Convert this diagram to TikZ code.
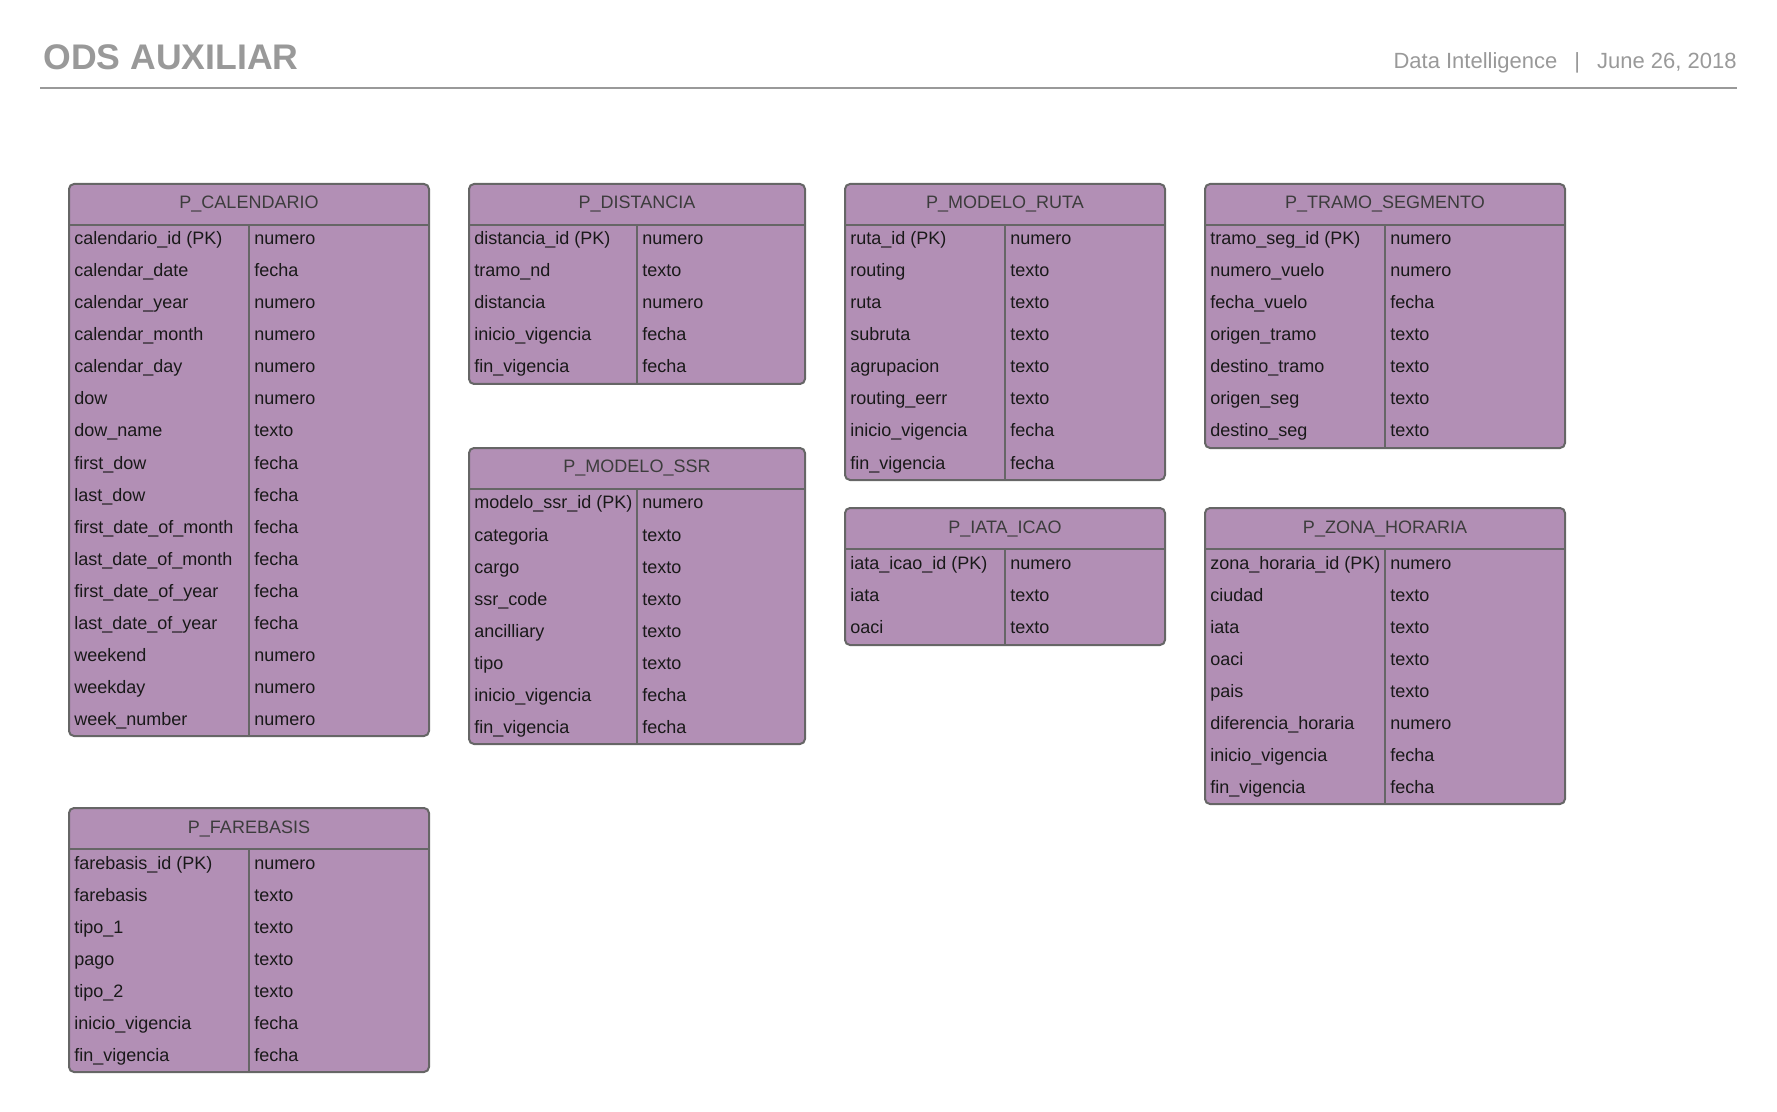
\documentclass[tikz,border=0pt]{standalone}
\usepackage{fontspec}
\setmainfont{Liberation Sans}
\usepackage{tikz}
\definecolor{tblfill}{RGB}{178,143,181}
\definecolor{tblline}{RGB}{102,102,102}
\definecolor{headgray}{RGB}{153,153,153}
\definecolor{headtext}{RGB}{60,60,60}

\begin{document}
\begin{tikzpicture}[x=0.5pt, y=-0.5pt,
    tbl/.style={draw=tblline, fill=tblfill, line width=1pt, rounded corners=2.5pt},
    sep/.style={draw=tblline, line width=1pt},
    tblhead/.style={anchor=base, inner sep=0pt, text=headtext, font=\fontsize{9}{11}\selectfont},
    fld/.style={anchor=base west, inner sep=0pt, text=black!90, font=\fontsize{9}{11}\selectfont}]
    \useasboundingbox (0,0) rectangle (1777,1112);

    % page header
    \node[anchor=base west, inner sep=0pt, text=headgray, font=\bfseries\fontsize{17.8}{20}\selectfont] (title) at (43,70) {ODS AUXILIAR};
    \node[anchor=base east, inner sep=0pt, text=headgray, font=\fontsize{11}{13}\selectfont] (info) at (1737,69) {Data Intelligence\hspace{8.5pt}|\hspace{8.5pt}June 26, 2018};
    \coordinate (ruleL) at (40,88);
    \coordinate (ruleR) at (1737,88);
    \draw[headgray, line width=1pt] (ruleL) -- (ruleR);

    % P_CALENDARIO
    \draw[tbl] (69,184) rectangle (429,736);
    \draw[sep] (69,225) -- (429,225);
    \draw[sep] (249,225) -- (249,736);
    \node[tblhead] (cal) at (249,209) {P\_CALENDARIO};
    \node[fld] (cal1) at (74,245) {calendario\_id (PK)};   \node[fld] (cal1t) at (254,245) {numero};
    \node[fld] (cal2) at (74,277) {calendar\_date};        \node[fld] (cal2t) at (254,277) {fecha};
    \node[fld] (cal3) at (74,309) {calendar\_year};        \node[fld] (cal3t) at (254,309) {numero};
    \node[fld] (cal4) at (74,341) {calendar\_month};       \node[fld] (cal4t) at (254,341) {numero};
    \node[fld] (cal5) at (74,373) {calendar\_day};         \node[fld] (cal5t) at (254,373) {numero};
    \node[fld] (cal6) at (74,405) {dow};                   \node[fld] (cal6t) at (254,405) {numero};
    \node[fld] (cal7) at (74,437) {dow\_name};             \node[fld] (cal7t) at (254,437) {texto};
    \node[fld] (cal8) at (74,469) {first\_dow};            \node[fld] (cal8t) at (254,469) {fecha};
    \node[fld] (cal9) at (74,501) {last\_dow};             \node[fld] (cal9t) at (254,501) {fecha};
    \node[fld] (cal10) at (74,533) {first\_date\_of\_month}; \node[fld] (cal10t) at (254,533) {fecha};
    \node[fld] (cal11) at (74,565) {last\_date\_of\_month};  \node[fld] (cal11t) at (254,565) {fecha};
    \node[fld] (cal12) at (74,597) {first\_date\_of\_year};  \node[fld] (cal12t) at (254,597) {fecha};
    \node[fld] (cal13) at (74,629) {last\_date\_of\_year};   \node[fld] (cal13t) at (254,629) {fecha};
    \node[fld] (cal14) at (74,661) {weekend};              \node[fld] (cal14t) at (254,661) {numero};
    \node[fld] (cal15) at (74,693) {weekday};              \node[fld] (cal15t) at (254,693) {numero};
    \node[fld] (cal16) at (74,725) {week\_number};         \node[fld] (cal16t) at (254,725) {numero};

    % P_FAREBASIS
    \draw[tbl] (69,808) rectangle (429,1072);
    \draw[sep] (69,849) -- (429,849);
    \draw[sep] (249,849) -- (249,1072);
    \node[tblhead] (fare) at (249,833) {P\_FAREBASIS};
    \node[fld] (fare1) at (74,869) {farebasis\_id (PK)};   \node[fld] (fare1t) at (254,869) {numero};
    \node[fld] (fare2) at (74,901) {farebasis};            \node[fld] (fare2t) at (254,901) {texto};
    \node[fld] (fare3) at (74,933) {tipo\_1};              \node[fld] (fare3t) at (254,933) {texto};
    \node[fld] (fare4) at (74,965) {pago};                 \node[fld] (fare4t) at (254,965) {texto};
    \node[fld] (fare5) at (74,997) {tipo\_2};              \node[fld] (fare5t) at (254,997) {texto};
    \node[fld] (fare6) at (74,1029) {inicio\_vigencia};    \node[fld] (fare6t) at (254,1029) {fecha};
    \node[fld] (fare7) at (74,1061) {fin\_vigencia};       \node[fld] (fare7t) at (254,1061) {fecha};

    % P_DISTANCIA
    \draw[tbl] (469,184) rectangle (805,384);
    \draw[sep] (469,225) -- (805,225);
    \draw[sep] (637,225) -- (637,384);
    \node[tblhead] (dist) at (637,209) {P\_DISTANCIA};
    \node[fld] (dist1) at (474,245) {distancia\_id (PK)};  \node[fld] (dist1t) at (642,245) {numero};
    \node[fld] (dist2) at (474,277) {tramo\_nd};           \node[fld] (dist2t) at (642,277) {texto};
    \node[fld] (dist3) at (474,309) {distancia};           \node[fld] (dist3t) at (642,309) {numero};
    \node[fld] (dist4) at (474,341) {inicio\_vigencia};    \node[fld] (dist4t) at (642,341) {fecha};
    \node[fld] (dist5) at (474,373) {fin\_vigencia};       \node[fld] (dist5t) at (642,373) {fecha};

    % P_MODELO_SSR
    \draw[tbl] (469,448) rectangle (805,744);
    \draw[sep] (469,489) -- (805,489);
    \draw[sep] (637,489) -- (637,744);
    \node[tblhead] (ssr) at (637,473) {P\_MODELO\_SSR};
    \node[fld] (ssr1) at (474,509) {modelo\_ssr\_id (PK)}; \node[fld] (ssr1t) at (642,509) {numero};
    \node[fld] (ssr2) at (474,541) {categoria};            \node[fld] (ssr2t) at (642,541) {texto};
    \node[fld] (ssr3) at (474,573) {cargo};                \node[fld] (ssr3t) at (642,573) {texto};
    \node[fld] (ssr4) at (474,605) {ssr\_code};            \node[fld] (ssr4t) at (642,605) {texto};
    \node[fld] (ssr5) at (474,637) {ancilliary};           \node[fld] (ssr5t) at (642,637) {texto};
    \node[fld] (ssr6) at (474,669) {tipo};                 \node[fld] (ssr6t) at (642,669) {texto};
    \node[fld] (ssr7) at (474,701) {inicio\_vigencia};     \node[fld] (ssr7t) at (642,701) {fecha};
    \node[fld] (ssr8) at (474,733) {fin\_vigencia};        \node[fld] (ssr8t) at (642,733) {fecha};

    % P_MODELO_RUTA
    \draw[tbl] (845,184) rectangle (1165,480);
    \draw[sep] (845,225) -- (1165,225);
    \draw[sep] (1005,225) -- (1005,480);
    \node[tblhead] (ruta) at (1005,209) {P\_MODELO\_RUTA};
    \node[fld] (ruta1) at (850,245) {ruta\_id (PK)};       \node[fld] (ruta1t) at (1010,245) {numero};
    \node[fld] (ruta2) at (850,277) {routing};             \node[fld] (ruta2t) at (1010,277) {texto};
    \node[fld] (ruta3) at (850,309) {ruta};                \node[fld] (ruta3t) at (1010,309) {texto};
    \node[fld] (ruta4) at (850,341) {subruta};             \node[fld] (ruta4t) at (1010,341) {texto};
    \node[fld] (ruta5) at (850,373) {agrupacion};          \node[fld] (ruta5t) at (1010,373) {texto};
    \node[fld] (ruta6) at (850,405) {routing\_eerr};       \node[fld] (ruta6t) at (1010,405) {texto};
    \node[fld] (ruta7) at (850,437) {inicio\_vigencia};    \node[fld] (ruta7t) at (1010,437) {fecha};
    \node[fld] (ruta8) at (850,469) {fin\_vigencia};       \node[fld] (ruta8t) at (1010,469) {fecha};

    % P_IATA_ICAO
    \draw[tbl] (845,508) rectangle (1165,645);
    \draw[sep] (845,549) -- (1165,549);
    \draw[sep] (1005,549) -- (1005,645);
    \node[tblhead] (iata) at (1005,533) {P\_IATA\_ICAO};
    \node[fld] (iata1) at (850,569) {iata\_icao\_id (PK)}; \node[fld] (iata1t) at (1010,569) {numero};
    \node[fld] (iata2) at (850,601) {iata};                \node[fld] (iata2t) at (1010,601) {texto};
    \node[fld] (iata3) at (850,633) {oaci};                \node[fld] (iata3t) at (1010,633) {texto};

    % P_TRAMO_SEGMENTO
    \draw[tbl] (1205,184) rectangle (1565,448);
    \draw[sep] (1205,225) -- (1565,225);
    \draw[sep] (1385,225) -- (1385,448);
    \node[tblhead] (tramo) at (1385,209) {P\_TRAMO\_SEGMENTO};
    \node[fld] (tramo1) at (1210,245) {tramo\_seg\_id (PK)}; \node[fld] (tramo1t) at (1390,245) {numero};
    \node[fld] (tramo2) at (1210,277) {numero\_vuelo};     \node[fld] (tramo2t) at (1390,277) {numero};
    \node[fld] (tramo3) at (1210,309) {fecha\_vuelo};      \node[fld] (tramo3t) at (1390,309) {fecha};
    \node[fld] (tramo4) at (1210,341) {origen\_tramo};     \node[fld] (tramo4t) at (1390,341) {texto};
    \node[fld] (tramo5) at (1210,373) {destino\_tramo};    \node[fld] (tramo5t) at (1390,373) {texto};
    \node[fld] (tramo6) at (1210,405) {origen\_seg};       \node[fld] (tramo6t) at (1390,405) {texto};
    \node[fld] (tramo7) at (1210,437) {destino\_seg};      \node[fld] (tramo7t) at (1390,437) {texto};

    % P_ZONA_HORARIA
    \draw[tbl] (1205,508) rectangle (1565,804);
    \draw[sep] (1205,549) -- (1565,549);
    \draw[sep] (1385,549) -- (1385,804);
    \node[tblhead] (zona) at (1385,533) {P\_ZONA\_HORARIA};
    \node[fld] (zona1) at (1210,569) {zona\_horaria\_id (PK)}; \node[fld] (zona1t) at (1390,569) {numero};
    \node[fld] (zona2) at (1210,601) {ciudad};             \node[fld] (zona2t) at (1390,601) {texto};
    \node[fld] (zona3) at (1210,633) {iata};               \node[fld] (zona3t) at (1390,633) {texto};
    \node[fld] (zona4) at (1210,665) {oaci};               \node[fld] (zona4t) at (1390,665) {texto};
    \node[fld] (zona5) at (1210,697) {pais};               \node[fld] (zona5t) at (1390,697) {texto};
    \node[fld] (zona6) at (1210,729) {diferencia\_horaria}; \node[fld] (zona6t) at (1390,729) {numero};
    \node[fld] (zona7) at (1210,761) {inicio\_vigencia};   \node[fld] (zona7t) at (1390,761) {fecha};
    \node[fld] (zona8) at (1210,793) {fin\_vigencia};      \node[fld] (zona8t) at (1390,793) {fecha};
\end{tikzpicture}
\end{document}
